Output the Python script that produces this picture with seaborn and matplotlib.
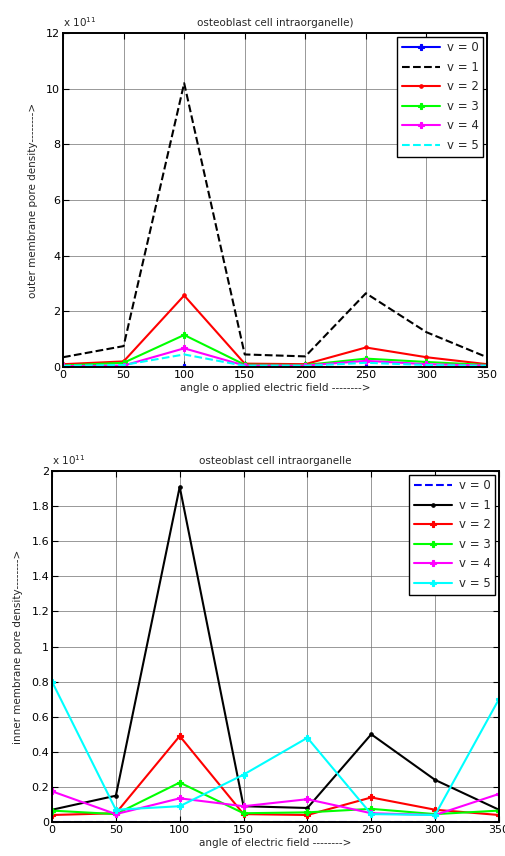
import matplotlib
matplotlib.use("Agg")
import matplotlib.pyplot as plt
import seaborn as sns
import numpy as np

sns.set_style("white")
plt.rcParams['font.family'] = ['DejaVu Sans']

angles = [0, 50, 100, 150, 200, 250, 300, 350]
labels = ["v = 0", "v = 1", "v = 2", "v = 3", "v = 4", "v = 5"]

# outer membrane pore density (x 1e11)
outer_v0 = [0.0, 0.0, 0.0, 0.0, 0.0, 0.0, 0.0, 0.0]
outer_v1 = [0.35, 0.75, 10.2, 0.45, 0.38, 2.65, 1.25, 0.35]
outer_v2 = [0.10, 0.20, 2.57, 0.12, 0.10, 0.70, 0.35, 0.10]
outer_v3 = [0.05, 0.15, 1.15, 0.08, 0.07, 0.30, 0.18, 0.07]
outer_v4 = [0.03, 0.05, 0.67, 0.05, 0.05, 0.22, 0.10, 0.05]
outer_v5 = [0.04, 0.07, 0.45, 0.04, 0.04, 0.15, 0.07, 0.04]

# inner membrane pore density (x 1e11)
inner_v0 = [0.0, 0.0, 0.0, 0.0, 0.0, 0.0, 0.0, 0.0]
inner_v1 = [0.07, 0.15, 1.91, 0.09, 0.08, 0.50, 0.24, 0.07]
inner_v2 = [0.04, 0.05, 0.49, 0.045, 0.04, 0.14, 0.07, 0.04]
inner_v3 = [0.065, 0.045, 0.225, 0.05, 0.055, 0.075, 0.045, 0.065]
inner_v4 = [0.175, 0.045, 0.135, 0.09, 0.13, 0.05, 0.04, 0.16]
inner_v5 = [0.80, 0.07, 0.09, 0.27, 0.48, 0.045, 0.04, 0.70]

outer = [outer_v0, outer_v1, outer_v2, outer_v3, outer_v4, outer_v5]
inner = [inner_v0, inner_v1, inner_v2, inner_v3, inner_v4, inner_v5]

colors = ["#0000ff", "#000000", "#ff0000", "#00ff00", "#ff00ff", "#00ffff"]
top_styles = [("-", "P"), ("--", None), ("-", "."), ("-", "P"), ("-", "P"), ("--", None)]
bot_styles = [("--", None), ("-", "."), ("-", "P"), ("-", "P"), ("-", "P"), ("-", "P")]

fig = plt.figure(figsize=(5.05, 8.56), dpi=100)
ax1 = fig.add_axes([0.1248, 0.5713, 0.8396, 0.390])
ax2 = fig.add_axes([0.1030, 0.0397, 0.8850, 0.410])

def draw(ax, series, styles):
    for vals, lab, col, (ls, mk) in zip(series, labels, colors, styles):
        sns.lineplot(x=angles, y=vals, ax=ax, color=col, linestyle=ls,
                     marker=mk, markersize=5, markeredgewidth=0.8,
                     markeredgecolor=col, linewidth=1.5, label=lab)

draw(ax1, outer, top_styles)
draw(ax2, inner, bot_styles)

def style_axis(ax, ylim, yticks, title, xlabel, ylabel, ytl):
    ax.set_xlim(0, 350)
    ax.set_ylim(*ylim)
    ax.set_xticks(angles)
    ax.set_xticklabels([str(a) for a in angles], fontsize=8)
    ax.set_yticks(yticks)
    ax.set_yticklabels(ytl, fontsize=8)
    ax.grid(True, color="#707070", linestyle="-", linewidth=0.5)
    ax.set_axisbelow(True)
    for s in ax.spines.values():
        s.set_color("black")
        s.set_linewidth(1.4)
        s.set_visible(True)
        s.set_zorder(5)
    ax.tick_params(direction="in", length=4, width=0.8, colors="black",
                   top=True, right=True, bottom=True, left=True, pad=2)
    ax.set_title(title, fontsize=7.5, pad=5)
    ax.set_xlabel(xlabel, fontsize=7.5, labelpad=2)
    ax.set_ylabel(ylabel, fontsize=7.5, labelpad=6)
    ax.text(0.0, 1.012, r"x 10$^{11}$", transform=ax.transAxes, fontsize=7.5,
            ha="left", va="bottom")
    leg = ax.legend(loc="upper right", fontsize=8.5, frameon=True, fancybox=False,
                    edgecolor="black", framealpha=1, handlelength=3.2,
                    borderaxespad=0.3, labelspacing=0.55, handletextpad=0.6,
                    borderpad=0.4)
    leg.get_frame().set_linewidth(1.0)
    leg.set_zorder(6)

style_axis(ax1, (0, 12), [0, 2, 4, 6, 8, 10, 12],
           "osteoblast cell intraorganelle)",
           "angle o applied electric field -------->",
           "outer membrane pore density-------->",
           ["0", "2", "4", "6", "8", "10", "12"])
style_axis(ax2, (0, 2), [0, 0.2, 0.4, 0.6, 0.8, 1.0, 1.2, 1.4, 1.6, 1.8, 2.0],
           "osteoblast cell intraorganelle",
           "angle of electric field -------->",
           "inner membrane pore density-------->",
           ["0", "0.2", "0.4", "0.6", "0.8", "1", "1.2", "1.4", "1.6", "1.8", "2"])

fig.savefig("out.png", dpi=100, facecolor="white")
